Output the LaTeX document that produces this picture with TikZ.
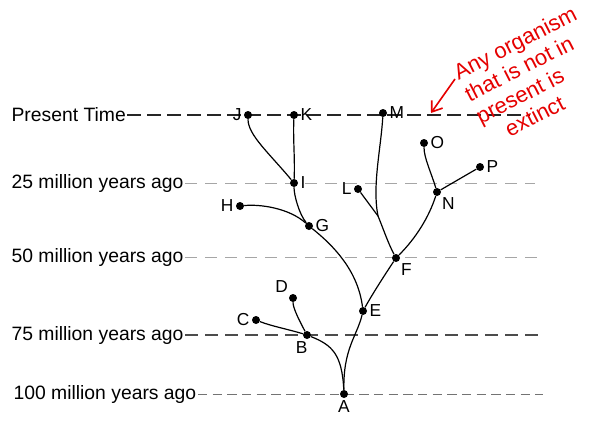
\documentclass[tikz,border=0pt]{standalone}
\usepackage{fontspec}
\setmainfont{Liberation Sans}
\usetikzlibrary{backgrounds}
\usetikzlibrary{arrows.meta}
\colorlet{noteCol}{red!90!black}
\colorlet{lightLine}{black!35}

\tikzset{
  dot/.style={circle, fill=black, inner sep=0pt, minimum size=6pt},
  timeLbl/.style={anchor=west, inner sep=1pt, font=\fontsize{14.5}{16}\selectfont},
  branch/.style={line width=0.9pt},
  darkDash/.style={line width=0.8pt, black!85, dash pattern=on 10pt off 5pt},
  grayDash/.style={line width=0.7pt, lightLine, dash pattern=on 9pt off 6pt},
  note/.style={anchor=north west, rotate=27, inner sep=0pt, align=left, text=noteCol, font=\fontsize{16.5}{18.5}\selectfont}
}

\begin{document}
\begin{tikzpicture}[x=0.75pt, y=-0.75pt,
  every label/.style={font=\fontsize{13}{15}\selectfont, inner sep=1pt}, label distance=0.5pt]
%--------------------------------------------------
\useasboundingbox (0,0) rectangle (589,421);

% time scale on the left
\node[timeLbl] (present) at (10,115) {Present Time};
\node[timeLbl] (mya25) at (10,183) {25 million years ago};
\node[timeLbl] (mya50) at (10,257) {50 million years ago};
\node[timeLbl] (mya75) at (10,335) {75 million years ago};
\node[timeLbl] (mya100) at (12,394) {100 million years ago};

\coordinate (presentEnd) at (530,115);
\coordinate (mya25End) at (535,183);
\coordinate (mya50End) at (540,257);
\coordinate (mya75End) at (540,335);
\coordinate (mya100End) at (543,394);

% the organisms
\node[dot, label=below:A] (A) at (344,394) {};
\node[dot, label={[xshift=-4pt]below:B}] (B) at (307,335) {};
\node[dot, label=left:C] (C) at (256,320) {};
\node[dot, label=above left:D] (D) at (293,298) {};
\node[dot, label=right:E] (E) at (363,311) {};
\node[dot, label=below right:F] (F) at (396,258) {};
\node[dot, label=right:G] (G) at (309,226) {};
\node[dot, label=left:H] (H) at (240,206) {};
\node[dot, label=right:I] (I) at (294,183) {};
\node[dot, label=left:J] (J) at (248,115) {};
\node[dot, label=right:K] (K) at (294,115) {};
\node[dot, label=left:L] (L) at (358,189) {};
\node[dot, label=right:M] (M) at (383,113) {};
\node[dot, label=below right:N] (N) at (437,192) {};
\node[dot, label=right:O] (O) at (424,143) {};
\node[dot, label=right:P] (P) at (480,167) {};
\coordinate (fork) at (378,216);

% red note
\node[note] (note) at (451,66) {Any organism\\that is not in\\present is\\\hspace*{0.9em}extinct};
\coordinate (noteTail) at (455,79);
\coordinate (noteTip) at (431,113);
\draw[noteCol, line width=1.2pt, -{Straight Barb[length=7pt,width=10pt]}] (noteTail) -- (noteTip);

\begin{scope}[on background layer]
% dashed time lines
\draw[darkDash] (present.east) -- (presentEnd);
\draw[grayDash] (mya25.east) -- (mya25End);
\draw[grayDash] (mya50.east) -- (mya50End);
\draw[darkDash, black!70] (mya75.east) -- (mya75End);
\draw[grayDash, black!55, dash pattern=on 7pt off 4pt] (mya100.east) -- (mya100End);

% branches of the tree
\draw[branch] (A) .. controls +(-2,-40) and +(25,10) .. (B);
\draw[branch] (A) .. controls +(-1,-45) and +(-6,25) .. (E);
\draw[branch] (B) .. controls +(-20,-6) and +(15,6) .. (C);
\draw[branch] (B) .. controls +(-8,-15) and +(0,10) .. (D);
\draw[branch] (E) .. controls +(10,-18) and +(-10,15) .. (F);
\draw[branch] (E) .. controls +(-5,-40) and +(25,20) .. (G);
\draw[branch] (G) .. controls +(-20,-18) and +(20,-2) .. (H);
\draw[branch] (G) .. controls +(-10,-12) and +(0,12) .. (I);
\draw[branch] (I) .. controls +(-25,-30) and +(0,20) .. (J);
\draw[branch] (I) .. controls +(1,-25) and +(-1,25) .. (K);
\draw[branch] (F) .. controls +(-8,-15) and +(5,12) .. (fork);
\draw[branch] (fork) .. controls +(-6,-30) and +(-2,35) .. (M);
\draw[branch] (fork) -- (L);
\draw[branch] (F) .. controls +(20,-20) and +(-8,25) .. (N);
\draw[branch] (N) .. controls +(-6,-20) and +(0,15) .. (O);
\draw[branch] (N) -- (P);
\end{scope}

%--------------------------------------------------
\end{tikzpicture}
\end{document}
